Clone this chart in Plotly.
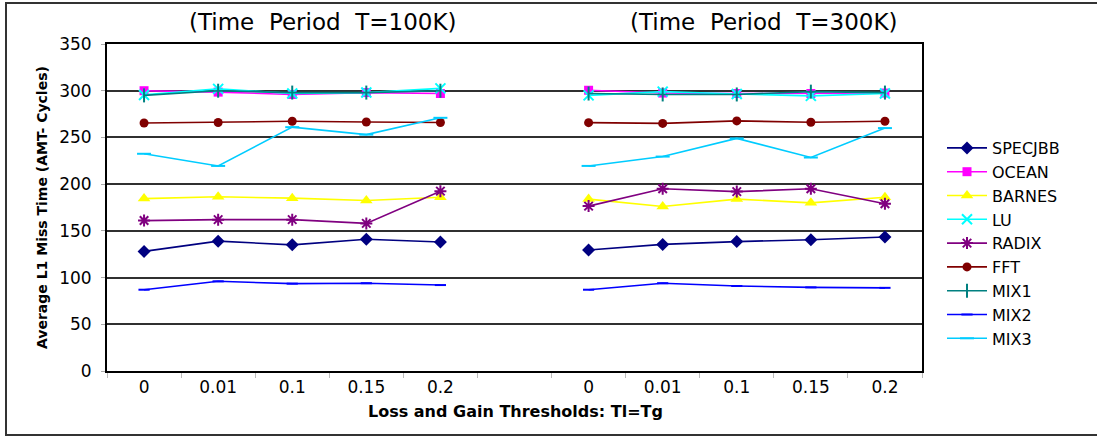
import plotly.graph_objects as go

# ---- data ----
thresholds = ["0", "0.01", "0.1", "0.15", "0.2"]
periods = ["(Time  Period  T=100K)", "(Time  Period  T=300K)"]
y_ticks = [0, 50, 100, 150, 200, 250, 300, 350]

specjbb_100 = [128, 139, 135, 141, 138]
specjbb_300 = [129.5, 135.5, 138.5, 140.5, 143.5]
ocean_100 = [300, 298.5, 296, 298, 297]
ocean_300 = [300.5, 297.5, 297, 297, 297.5]
barnes_100 = [184.5, 186.5, 185, 182.5, 186]
barnes_300 = [184, 176, 184, 180, 186]
lu_100 = [295.5, 302, 297, 298, 302.5]
lu_300 = [295, 299, 296.5, 294.5, 297]
radix_100 = [161, 162, 162, 158, 192.5]
radix_300 = [176.5, 195, 192, 195, 179]
fft_100 = [265.5, 266, 267.3, 266.5, 266]
fft_300 = [265.8, 265, 267.7, 266.2, 267.3]
mix1_100 = [295, 300, 298, 298, 300]
mix1_300 = [297, 296, 296, 299, 298]
mix2_100 = [87, 96, 93.5, 94, 92]
mix2_300 = [87, 94, 91, 89.5, 89]
mix3_100 = [232.5, 219.5, 261, 253, 271]
mix3_300 = [219.5, 229.5, 249, 228.5, 260]

series = [
    ("SPECJBB", specjbb_100, specjbb_300, "#000080", "diamond", 10),
    ("OCEAN", ocean_100, ocean_300, "#FF00FF", "square", 9),
    ("BARNES", barnes_100, barnes_300, "#FFFF00", "triangle-up", 11),
    ("LU", lu_100, lu_300, "#00FFFF", "x-thin-open", 10),
    ("RADIX", radix_100, radix_300, "#800080", "asterisk-open", 10),
    ("FFT", fft_100, fft_300, "#800000", "circle", 9),
    ("MIX1", mix1_100, mix1_300, "#008080", "line-ns-open", 10),
    ("MIX2", mix2_100, mix2_300, "#0000FF", "line-ew-open", 8),
    ("MIX3", mix3_100, mix3_300, "#00CCFF", "line-ew-open", 10),
]

n = len(thresholds)
pos_left = list(range(n))
pos_right = [n + 1 + i for i in range(n)]
positions = pos_left + [None] + pos_right

fig = go.Figure()
for name, a, b, color, sym, size in series:
    open_sym = sym.endswith("open")
    fig.add_trace(go.Scatter(
        x=positions, y=a + [None] + b, name=name, mode="lines+markers",
        connectgaps=False,
        line=dict(color=color, width=1.6),
        marker=dict(symbol=sym, size=size, color=color,
                    line=dict(color=color, width=2 if open_sym else 0)),
    ))

W, H = 1097, 437
L, R, T, B = 107, 175, 44, 66
pw, ph = W - L - R, H - T - B

def px(x):
    return (x - L) / pw

def py(y):
    return (H - B - y) / ph

fig.update_layout(
    width=W, height=H,
    margin=dict(l=L, r=R, t=T, b=B),
    paper_bgcolor="white", plot_bgcolor="white",
    font=dict(family="DejaVu Sans", color="black"),
    showlegend=True,
    legend=dict(x=px(942), xanchor="left", y=py(131), yanchor="top",
                font=dict(size=16, family="DejaVu Sans"),
                tracegroupgap=0, itemwidth=40, bgcolor="rgba(0,0,0,0)"),
    xaxis=dict(range=[-0.5, 2 * n + 0.5], tickvals=pos_left + pos_right,
               ticktext=thresholds + thresholds, ticks="", showgrid=False,
               zeroline=False, showline=True, linecolor="black", linewidth=2,
               mirror=True, tickfont=dict(size=17), ticklabelstandoff=0,
               minor=dict(tickvals=[i - 0.5 for i in range(2 * n + 2)],
                          ticks="outside", ticklen=5, tickcolor="#bbbbbb",
                          showgrid=False)),
    yaxis=dict(range=[0, 350], tickvals=y_ticks, showgrid=True,
               gridcolor="#303030", gridwidth=1.5, zeroline=False,
               showline=True, linecolor="black", linewidth=2, mirror=True,
               ticks="outside", ticklen=4, tickcolor="#aaaaaa",
               tickfont=dict(size=17), ticklabelstandoff=6),
    annotations=[
        dict(text=periods[0], x=px(323), y=py(22), xref="paper", yref="paper",
             xanchor="center", yanchor="middle",
             showarrow=False, font=dict(size=23)),
        dict(text=periods[1], x=px(764), y=py(22), xref="paper", yref="paper",
             xanchor="center", yanchor="middle",
             showarrow=False, font=dict(size=23)),
        dict(text="<b>Loss and Gain Thresholds: Tl=Tg</b>", x=px(515), y=py(411),
             xref="paper", yref="paper", xanchor="center", yanchor="middle",
             showarrow=False, font=dict(size=16)),
        dict(text="<b>Average L1 Miss Time (AMT- Cycles)</b>", x=px(42), y=py(208),
             xref="paper", yref="paper", xanchor="center", yanchor="middle",
             showarrow=False, textangle=-90, font=dict(size=14)),
    ],
    shapes=[dict(type="rect", xref="paper", yref="paper",
                 x0=px(6), x1=px(1110), y0=py(435), y1=py(3),
                 line=dict(color="#333333", width=2))],
)

fig.write_html("out.html")
